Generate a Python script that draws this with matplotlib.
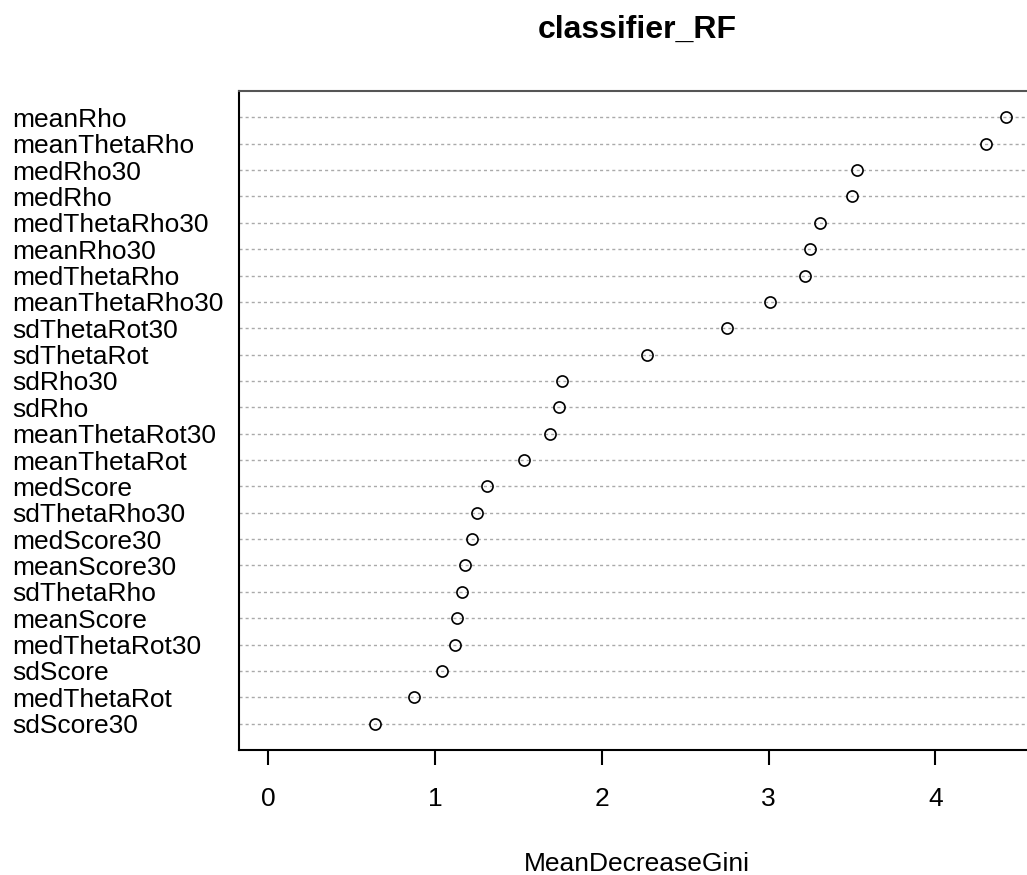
import matplotlib
matplotlib.use("Agg")
import matplotlib.pyplot as plt

plt.rcParams['font.family'] = ['Liberation Sans', 'DejaVu Sans']

# variable importance, listed from top row to bottom row
variables = ["meanRho", "meanThetaRho", "medRho30", "medRho", "medThetaRho30",
             "meanRho30", "medThetaRho", "meanThetaRho30", "sdThetaRot30", "sdThetaRot",
             "sdRho30", "sdRho", "meanThetaRot30", "meanThetaRot", "medScore",
             "sdThetaRho30", "medScore30", "meanScore30", "sdThetaRho", "meanScore",
             "medThetaRot30", "sdScore", "medThetaRot", "sdScore30"]
gini = [4.42, 4.30, 3.53, 3.50, 3.31,
        3.25, 3.22, 3.01, 2.75, 2.27,
        1.76, 1.74, 1.69, 1.53, 1.31,
        1.25, 1.22, 1.18, 1.16, 1.13,
        1.12, 1.04, 0.87, 0.64]
xticks = [0, 1, 2, 3, 4]

n = len(variables)
rows = list(range(n, 0, -1))

fig = plt.figure(figsize=(10.27, 8.75), dpi=100)
ax = fig.add_axes([239 / 1027, 125 / 875, 796 / 1027, 659 / 875])

# dotted guide lines like R's dotchart
for r in rows:
    ax.axhline(r, color='#aaaaaa', lw=1, linestyle=(0, (2.2, 2.2)), zorder=1)
ax.plot(gini, rows, linestyle='none', marker='o', markersize=8,
        markerfacecolor='none', markeredgecolor='black', markeredgewidth=1.2, zorder=3)

# R style axis range: 0..max, extended by 4%
lo, hi = 0, max(gini)
span = hi - lo
ax.set_xlim(lo - 0.04 * span, hi + 0.04 * span)
ax.set_ylim(0, n + 1)

ax.set_xticks(xticks)
ax.set_xticklabels([str(t) for t in xticks], fontsize=19)
ax.tick_params(axis='x', length=11, width=1.5, pad=16)

ax.set_yticks(rows)
ax.set_yticklabels(variables, fontsize=19)
ax.tick_params(axis='y', length=0, pad=163)
for lab in ax.get_yticklabels():
    lab.set_horizontalalignment('left')

for side in ['left', 'bottom']:
    ax.spines[side].set_linewidth(1.5)
    ax.spines[side].set_color('black')
ax.spines['top'].set_linewidth(1.5)
ax.spines['top'].set_color('#555555')

ax.set_title("classifier_RF", fontsize=23, fontweight='bold', pad=38)
ax.set_xlabel("MeanDecreaseGini", fontsize=19, labelpad=29)

fig.savefig("out.png", dpi=100)
plt.close(fig)
